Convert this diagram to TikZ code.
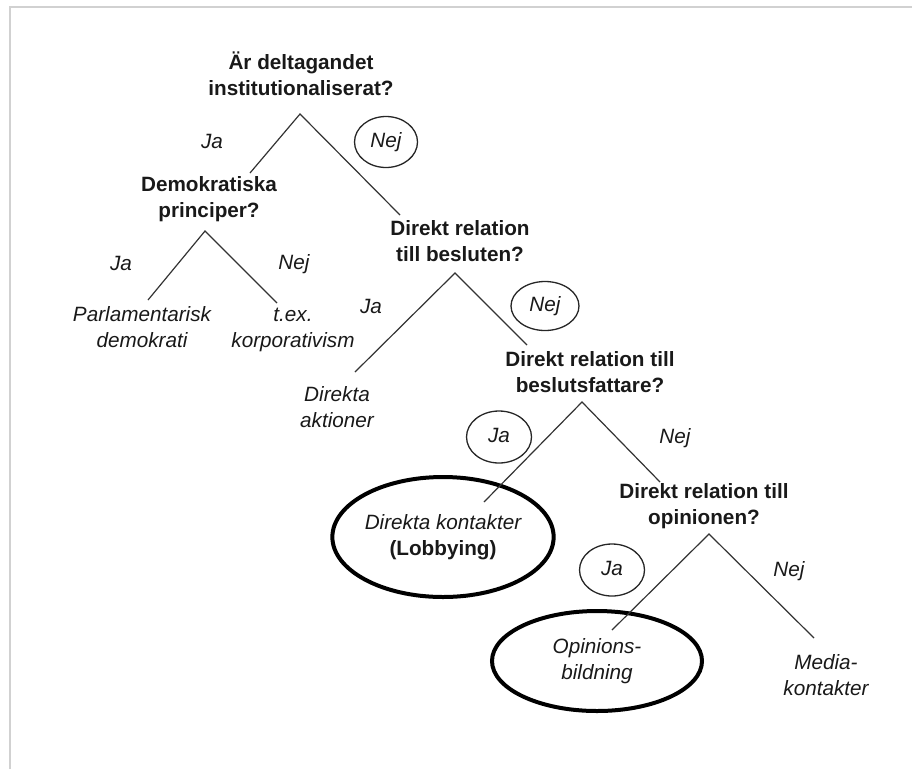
\documentclass[tikz,border=0pt]{standalone}
\usepackage{fontspec}
\setmainfont{Liberation Sans}
\usetikzlibrary{shapes.geometric}
\begin{document}
\begin{tikzpicture}[x=1pt,y=-1pt,
  base/.style={inner sep=0pt, align=center, text=black!90},
  qbox/.style={base, font=\fontsize{20.7}{26}\selectfont\bfseries},
  leaf/.style={base, font=\fontsize{20.7}{26}\selectfont\itshape},
  ans/.style={leaf},
  pick/.style={leaf, ellipse, draw=black!85, line width=1.3pt},
  chosen/.style={leaf, ellipse, draw=black, line width=4pt},
  branch/.style={draw=black!80, line width=1.2pt},
  frameline/.style={draw=black!18, line width=1.2pt}]
\useasboundingbox (0,0) rectangle (912,769);
% frame of the screenshot
\coordinate (ftl) at (10,7);
\coordinate (ftr) at (912,7);
\coordinate (fbl) at (10,769);
\draw[frameline] (fbl) -- (ftl) -- (ftr);

% questions
\node[qbox] (q1) at (301,77.5) {\strut Är deltagandet\\\strut institutionaliserat?};
\node[qbox] (q2) at (209,199) {\strut Demokratiska\\\strut principer?};
\node[qbox] (q3) at (460,243.5) {\strut Direkt relation\\\strut till besluten?};
\node[qbox] (q4) at (590,374) {\strut Direkt relation till\\\strut beslutsfattare?};
\node[qbox] (q5) at (704,506) {\strut Direkt relation till\\\strut opinionen?};

% leaves
\node[leaf] (parl) at (142,329.5) {\strut Parlamentarisk\\\strut demokrati};
\node[leaf] (korp) at (293,329.5) {\strut t.ex.\\\strut korporativism};
\node[leaf] (akt) at (337,409.5) {\strut Direkta\\\strut aktioner};
\node[chosen, minimum width=212pt, minimum height=120pt] (lobby) at (443,537)
  {\strut Direkta kontakter\\\strut\textbf{\upshape (Lobbying)}};
\node[chosen, minimum width=210pt, minimum height=100pt] (opin) at (597,661)
  {\strut Opinions-\\\strut bildning};
\node[leaf] (media) at (826,677) {\strut Media-\\\strut kontakter};

% answer labels
\node[ans] (ja1) at (212,143) {\strut Ja};
\node[pick, minimum width=63pt, minimum height=51pt] (nej1) at (386,142) {\strut Nej};
\node[ans] (ja2) at (121,265) {\strut Ja};
\node[ans] (nej2) at (294,264) {\strut Nej};
\node[ans] (ja3) at (371,308) {\strut Ja};
\node[pick, minimum width=68pt, minimum height=49pt] (nej3) at (545,306) {\strut Nej};
\node[pick, minimum width=65pt, minimum height=52pt] (ja4) at (499,437) {\strut Ja};
\node[ans] (nej4) at (675,438) {\strut Nej};
\node[pick, minimum width=65pt, minimum height=52pt] (ja5) at (612,570) {\strut Ja};
\node[ans] (nej5) at (789,571) {\strut Nej};

% branch points
\coordinate (a1) at (300,114);
\coordinate (a1l) at (250,173);
\coordinate (a1r) at (400,215);
\coordinate (a2) at (205,231);
\coordinate (a2l) at (148,300);
\coordinate (a2r) at (277,303);
\coordinate (a3) at (455,273);
\coordinate (a3l) at (355,372);
\coordinate (a3r) at (527,345);
\coordinate (a4) at (582,402);
\coordinate (a4l) at (484,502);
\coordinate (a4r) at (660,482);
\coordinate (a5) at (709,534);
\coordinate (a5l) at (612,630);
\coordinate (a5r) at (814,638);

\draw[branch] (a1l) -- (a1) -- (a1r);
\draw[branch] (a2l) -- (a2) -- (a2r);
\draw[branch] (a3l) -- (a3) -- (a3r);
\draw[branch] (a4l) -- (a4) -- (a4r);
\draw[branch] (a5l) -- (a5) -- (a5r);
\end{tikzpicture}
\end{document}
